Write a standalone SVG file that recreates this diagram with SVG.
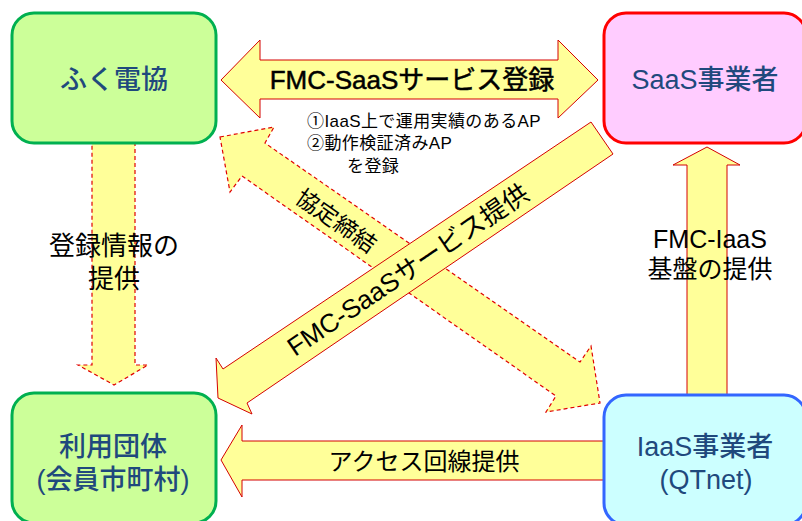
<svg xmlns="http://www.w3.org/2000/svg" width="802" height="521" viewBox="0 0 802 521">
<style>
.arr{fill:#FFFF99;stroke:#D40000;stroke-width:1;stroke-linejoin:miter}
.dash{fill:#FFFF99;stroke:#E00000;stroke-width:1.2;stroke-dasharray:4 3}
.lbl{font-family:"Liberation Sans","Noto Sans CJK JP",sans-serif;fill:#000;text-anchor:middle;dominant-baseline:central}
.node{font-family:"Liberation Sans","Noto Sans CJK JP",sans-serif;fill:#1F497D;text-anchor:middle;dominant-baseline:central;font-size:27px;font-weight:500}
.note{font-family:"Liberation Sans","Noto Sans CJK JP",sans-serif;fill:#000;font-size:17px;letter-spacing:0.4px;dominant-baseline:central}
</style>
<rect width="802" height="521" fill="#FFFFFF"/>
<g id="connectors">
  <g id="c-kyotei">
    <polygon class="dash" points="220,137 274,127 265,143 580,362 591,346 600,403 546,412 556,396 242,176 230,192"/>
    <text class="lbl" font-size="23" transform="translate(336,221) rotate(35)">協定締結</text>
  </g>
  <g id="c-saas-teikyo">
    <polygon class="arr" points="591,122 613,154 247,403 252,414 218,398 216,358 223,369"/>
    <text class="lbl" font-size="26" transform="translate(408,270) rotate(-34)">FMC-SaaSサービス提供</text>
  </g>
  <g id="c-touroku">
    <polygon class="arr" points="221,80 260,40 260,60 558,60 558,40 598,80 558,118 558,99 260,99 260,118"/>
    <text class="lbl" font-size="26" stroke="#000" stroke-width="0.5" x="412" y="80">FMC-SaaSサービス登録</text>
  </g>
  <g id="c-info">
    <polygon class="dash" points="92,143 135,143 135,365 148,365 114,385 78,365 92,365"/>
    <text class="lbl" font-size="26" x="114" y="246">登録情報の</text>
    <text class="lbl" font-size="26" x="114" y="279">提供</text>
  </g>
  <g id="c-iaas">
    <polygon class="arr" points="687,395 687,165 673,165 707,147 740,165 727,165 727,395"/>
    <text class="lbl" font-size="25" x="710" y="239">FMC-IaaS</text>
    <text class="lbl" font-size="25" x="710" y="269">基盤の提供</text>
  </g>
  <g id="c-access">
    <polygon class="arr" points="221,460 242,425 242,441 606,441 606,480 242,480 242,497"/>
    <text class="lbl" font-size="24" x="424" y="461">アクセス回線提供</text>
  </g>
  <text class="note" x="307" y="121">①IaaS上で運用実績のあるAP</text>
  <text class="note" x="307" y="143">②動作検証済みAP</text>
  <text class="note" x="347" y="166">を登録</text>
</g>
<g id="n-fukudenkyo">
  <rect x="12" y="13" width="204" height="130" rx="22" fill="#CCFF99" stroke="#00B050" stroke-width="3"/>
  <text class="node" x="114" y="80">ふく電協</text>
</g>
<g id="n-saas">
  <rect x="604" y="13" width="202" height="130" rx="22" fill="#FFCCFF" stroke="#FF0000" stroke-width="3"/>
  <text class="node" x="705" y="80">SaaS事業者</text>
</g>
<g id="n-riyou">
  <rect x="12" y="393" width="204" height="130" rx="22" fill="#CCFF99" stroke="#00B050" stroke-width="3"/>
  <text class="node" x="113" y="447">利用団体</text>
  <text class="node" x="113" y="480">(会員市町村)</text>
</g>
<g id="n-iaas">
  <rect x="604" y="395" width="202" height="130" rx="22" fill="#CCFFFF" stroke="#3366FF" stroke-width="3"/>
  <text class="node" x="705" y="447">IaaS事業者</text>
  <text class="node" x="706" y="480">(QTnet)</text>
</g>
</svg>
